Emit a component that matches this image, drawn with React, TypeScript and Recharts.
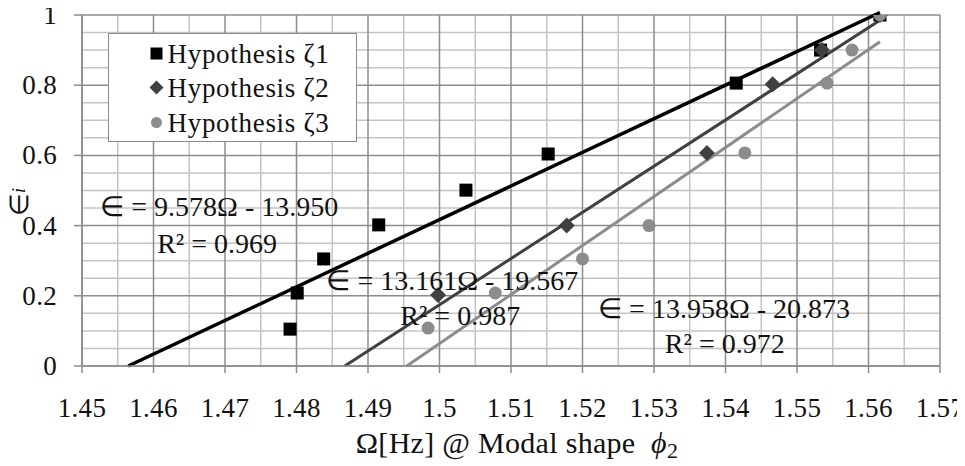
import React from 'react';
import { ScatterChart, Scatter, XAxis, YAxis, ReferenceLine, ReferenceDot, Legend, Label } from 'recharts';

// ---- data ----
const h1X = [1.4791, 1.4801, 1.4838, 1.4915, 1.5037, 1.5152, 1.5415, 1.5533, 1.5616];
const h1Y = [0.105, 0.208, 0.305, 0.402, 0.501, 0.604, 0.806, 0.9, 1.0];
const h2X = [1.4998, 1.5178, 1.5374, 1.5466, 1.5535, 1.5616];
const h2Y = [0.202, 0.4, 0.607, 0.803, 0.9, 1.0];
const h3X = [1.4984, 1.5078, 1.52, 1.5293, 1.5427, 1.5542, 1.5577, 1.5616];
const h3Y = [0.108, 0.208, 0.305, 0.4, 0.607, 0.806, 0.9, 1.0];

const seriesNames = ['Hypothesis \u03b61', 'Hypothesis \u03b62', 'Hypothesis \u03b63'];
const trendSlope = [9.578, 13.161, 13.958];
const trendIntercept = [-13.95, -19.567, -20.873];
const trendR2 = ['0.969', '0.987', '0.972'];
const trendEnd = [1.5616, 1.5616, 1.5616];

const xTicks = [1.45, 1.46, 1.47, 1.48, 1.49, 1.5, 1.51, 1.52, 1.53, 1.54, 1.55, 1.56, 1.57];
const xMinor = [1.455, 1.465, 1.475, 1.485, 1.495, 1.505, 1.515, 1.525, 1.535, 1.545, 1.555, 1.565];
const yTicks = [0, 0.2, 0.4, 0.6, 0.8, 1];
const yMinor = [0.05, 0.1, 0.15, 0.25, 0.3, 0.35, 0.45, 0.5, 0.55, 0.65, 0.7, 0.75, 0.85, 0.9, 0.95];

// annotation anchors (data units): [x, yEquation, xR2, yR2]
const eqAnchors = [
  [1.4692, 0.453, 1.4689, 0.35],
  [1.5018, 0.245, 1.5029, 0.145],
  [1.5398, 0.165, 1.5399, 0.0655],
];

// ---- style ----
const FONT = '"Liberation Serif", "Times New Roman", serif';
const TEXT = '#111';
const MAJOR = '#8c8c8c';
const MINOR = '#c4c4c4';
const COLORS = ['#000000', '#404040', '#8c8c8c'];
const LINE_W = [3.5, 3, 3];

const toPts = (xs: number[], ys: number[]) => xs.map((x, i) => ({ x, y: ys[i] }));
const s1 = toPts(h1X, h1Y);
const s2 = toPts(h2X, h2Y);
const s3 = toPts(h3X, h3Y);

const Square = (p: any) => <rect x={p.cx - 6.5} y={p.cy - 6.5} width={13} height={13} fill={COLORS[0]} />;
const Diamond = (p: any) => (
  <polygon points={`${p.cx},${p.cy - 8} ${p.cx + 8},${p.cy} ${p.cx},${p.cy + 8} ${p.cx - 8},${p.cy}`} fill={COLORS[1]} />
);
const Circle = (p: any) => <circle cx={p.cx} cy={p.cy} r={6.5} fill={COLORS[2]} />;

const fmt = (v: number) => String(Number(v.toFixed(2)));

const XTick = (p: any) => (
  <text x={p.x} y={p.y + 12} textAnchor="middle" dominantBaseline="central" fontFamily={FONT} fontSize={27} fill={TEXT} letterSpacing={0.3}>
    {fmt(p.payload.value)}
  </text>
);
const YTick = (p: any) => (
  <text x={p.x} y={p.y} textAnchor="end" dominantBaseline="central" fontFamily={FONT} fontSize={27} fill={TEXT} letterSpacing={0.3}>
    {fmt(p.payload.value)}
  </text>
);

const XTitle = (props: any) => {
  const vb = props.viewBox;
  return (
    <text x={vb.x + vb.width / 2 + 6} y={vb.y + 87} textAnchor="middle" fontFamily={FONT} fontSize={30} fill={TEXT} letterSpacing={0.3} style={{ whiteSpace: 'pre' }}>
      {'\u03a9[Hz] @ Modal shape  '}
      <tspan fontStyle="italic">{'\u03d5'}</tspan>
      <tspan fontSize={22} dy={5}>2</tspan>
    </text>
  );
};

const YTitle = (props: any) => {
  const vb = props.viewBox;
  const cx = vb.x + 11;
  const cy = vb.y + 187;
  return (
    <text x={cx} y={cy} transform={`rotate(-90 ${cx} ${cy})`} textAnchor="middle" dominantBaseline="central" fontFamily={FONT} fontSize={26} fill={TEXT}>
      {'\u2208'}
      <tspan fontStyle="italic" fontSize={18}>i</tspan>
    </text>
  );
};

const makeLabel = (text: string) => (props: any) => {
  const vb = props.viewBox;
  const cx = vb.x + (vb.width || 0) / 2;
  const cy = vb.y + (vb.height || 0) / 2;
  return (
    <text x={cx} y={cy} textAnchor="middle" dominantBaseline="central" fontFamily={FONT} fontSize={28} fill={TEXT}>
      {text}
    </text>
  );
};

const LegendBox = () => {
  const rows = [19.5, 53.5, 88.5];
  return (
    <div style={{ width: 249, height: 109, boxSizing: 'border-box', border: '1.5px solid #8c8c8c', background: '#fff' }}>
      <svg width={246} height={106} style={{ display: 'block' }}>
        <rect x={47.5 - 6} y={rows[0] - 6} width={12} height={12} fill={COLORS[0]} />
        <polygon points={`47.5,${rows[1] - 7} 54.5,${rows[1]} 47.5,${rows[1] + 7} 40.5,${rows[1]}`} fill={COLORS[1]} />
        <circle cx={47.5} cy={rows[2]} r={5.5} fill={COLORS[2]} />
        {seriesNames.map((n, i) => (
          <text key={n} x={58.5} y={rows[i]} dominantBaseline="central" fontFamily={FONT} fontSize={27} fill={TEXT} letterSpacing={0.7}>
            {n}
          </text>
        ))}
      </svg>
    </div>
  );
};

export default function App() {
  return (
    <div style={{ marginTop: -8, marginLeft: -8, width: 965, height: 466 }}>
      <ScatterChart width={965} height={466} margin={{ top: 15, right: 25, bottom: 0, left: 8 }}>
        <XAxis
          type="number"
          dataKey="x"
          domain={[1.45, 1.57]}
          allowDataOverflow
          ticks={xTicks}
          interval={0}
          height={100}
          tick={XTick}
          tickSize={7}
          tickMargin={23}
          axisLine={{ stroke: MAJOR, strokeWidth: 1.5 }}
          tickLine={{ stroke: MAJOR, strokeWidth: 1.5 }}
        >
          <Label content={XTitle} />
        </XAxis>
        <YAxis
          type="number"
          dataKey="y"
          domain={[0, 1]}
          allowDataOverflow
          ticks={yTicks}
          interval={0}
          width={74}
          tick={YTick}
          tickSize={8}
          tickMargin={17}
          axisLine={{ stroke: MAJOR, strokeWidth: 1.5 }}
          tickLine={{ stroke: MAJOR, strokeWidth: 1.5 }}
        >
          <Label content={YTitle} />
        </YAxis>

        {xMinor.map((v) => (
          <ReferenceLine key={'xm' + v} x={v} stroke={MINOR} strokeWidth={1.5} />
        ))}
        {yMinor.map((v) => (
          <ReferenceLine key={'ym' + v} y={v} stroke={MINOR} strokeWidth={1.5} />
        ))}
        {xTicks.map((v) => (
          <ReferenceLine key={'xM' + v} x={v} stroke={MAJOR} strokeWidth={1.5} />
        ))}
        {yTicks.map((v) => (
          <ReferenceLine key={'yM' + v} y={v} stroke={MAJOR} strokeWidth={1.5} />
        ))}

        {trendSlope.map((a, i) => {
          const b = trendIntercept[i];
          const x0 = -b / a;
          const x1 = trendEnd[i];
          return (
            <ReferenceLine
              key={'t' + i}
              segment={[{ x: x0, y: 0 }, { x: x1, y: a * x1 + b }]}
              stroke={COLORS[i]}
              strokeWidth={LINE_W[i]}
              ifOverflow="visible"
            />
          );
        })}

        <Scatter name={seriesNames[0]} data={s1} shape={Square} isAnimationActive={false} />
        <Scatter name={seriesNames[1]} data={s2} shape={Diamond} isAnimationActive={false} />
        <Scatter name={seriesNames[2]} data={s3} shape={Circle} isAnimationActive={false} />

        {eqAnchors.map((p, i) => {
          const a = trendSlope[i];
          const b = trendIntercept[i];
          const eq = `\u2208 = ${a.toFixed(3)}\u03a9 - ${Math.abs(b).toFixed(3)}`;
          return (
            <React.Fragment key={'eq' + i}>
              <ReferenceDot x={p[0]} y={p[1]} r={0} fill="none" stroke="none" ifOverflow="visible" label={makeLabel(eq)} />
              <ReferenceDot x={p[2]} y={p[3]} r={0} fill="none" stroke="none" ifOverflow="visible" label={makeLabel(`R\u00b2 = ${trendR2[i]}`)} />
            </React.Fragment>
          );
        })}

        <Legend
          layout="vertical"
          align="center"
          verticalAlign="middle"
          content={LegendBox}
          wrapperStyle={{ position: 'absolute', left: 108, top: 33, width: 249, height: 109, margin: 0, padding: 0 }}
        />
      </ScatterChart>
    </div>
  );
}
